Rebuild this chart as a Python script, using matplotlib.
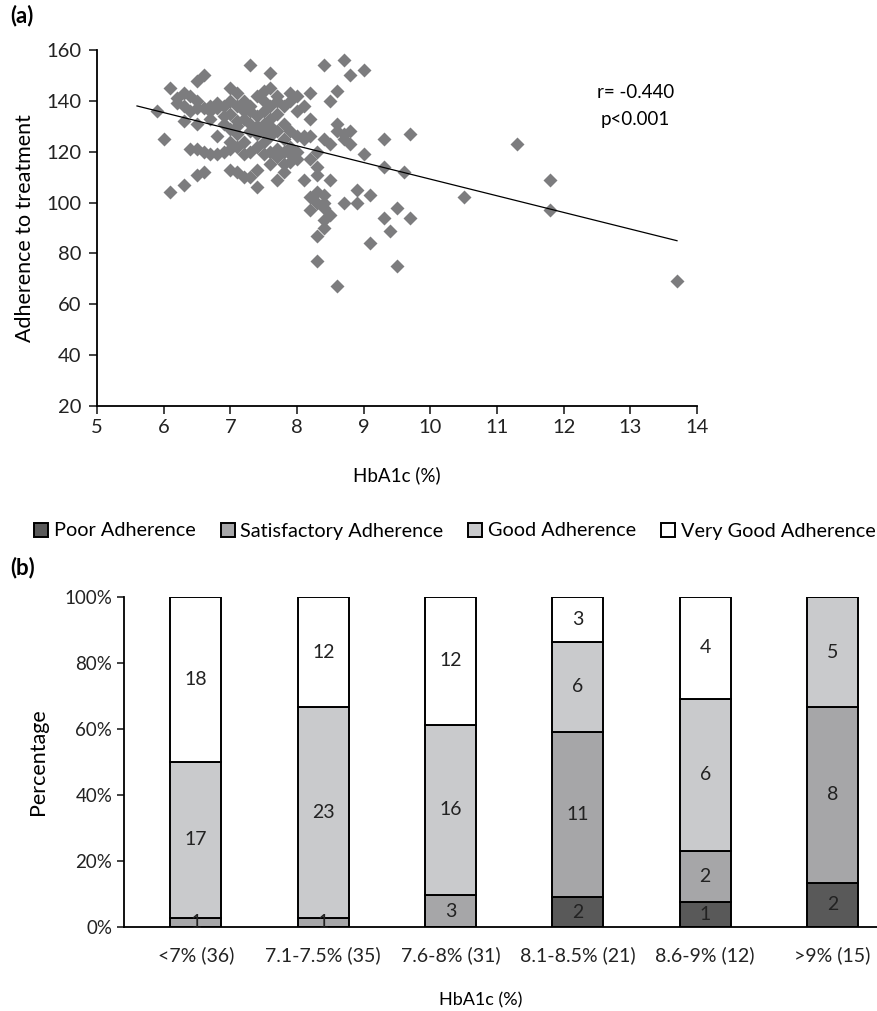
import numpy as np
import matplotlib.pyplot as plt

plt.rcParams['font.family'] = ['Lato', 'DejaVu Sans']

# ---- (a) scatter: HbA1c vs adherence score ----
hba1c = [5.9, 6.0, 6.1, 6.1, 6.2, 6.2, 6.3, 6.3, 6.3, 6.3,
         6.4, 6.4, 6.4, 6.5, 6.5, 6.5, 6.5, 6.5, 6.5, 6.6,
         6.6, 6.6, 6.6, 6.7, 6.7, 6.7, 6.7, 6.8, 6.8, 6.8,
         6.8, 6.9, 6.9, 6.9, 6.9, 7.0, 7.0, 7.0, 7.0, 7.0,
         7.0, 7.0, 7.1, 7.1, 7.1, 7.1, 7.1, 7.1, 7.1, 7.2,
         7.2, 7.2, 7.2, 7.2, 7.2, 7.3, 7.3, 7.3, 7.3, 7.3,
         7.3, 7.3, 7.4, 7.4, 7.4, 7.4, 7.4, 7.4, 7.4, 7.5,
         7.5, 7.5, 7.5, 7.5, 7.5, 7.5, 7.6, 7.6, 7.6, 7.6,
         7.6, 7.6, 7.6, 7.6, 7.7, 7.7, 7.7, 7.7, 7.7, 7.7,
         7.7, 7.8, 7.8, 7.8, 7.8, 7.8, 7.8, 7.9, 7.9, 7.9,
         7.9, 7.9, 7.9, 8.0, 8.0, 8.0, 8.0, 8.0, 8.1, 8.1,
         8.1, 8.1, 8.2, 8.2, 8.2, 8.2, 8.2, 8.2, 8.3, 8.3,
         8.3, 8.3, 8.3, 8.3, 8.3, 8.4, 8.4, 8.4, 8.4, 8.4,
         8.4, 8.4, 8.5, 8.5, 8.5, 8.5, 8.6, 8.6, 8.6, 8.6,
         8.7, 8.7, 8.7, 8.7, 8.8, 8.8, 8.8, 8.9, 8.9, 9.0,
         9.0, 9.1, 9.1, 9.3, 9.3, 9.3, 9.4, 9.5, 9.5, 9.6,
         9.7, 9.7, 10.5, 11.3, 11.8, 11.8, 13.7]
adherence = [136, 125, 104, 145, 139, 141, 107, 143, 132, 138,
             121, 142, 136, 121, 111, 131, 140, 148, 137, 112,
             150, 120, 137, 133, 138, 119, 136, 139, 126, 119,
             137, 120, 134, 138, 131, 113, 124, 129, 140, 145,
             135, 121, 112, 122, 130, 138, 143, 127, 132, 119,
             110, 133, 136, 124, 140, 110, 120, 136, 154, 128,
             131, 138, 106, 113, 130, 122, 142, 134, 127, 124,
             131, 144, 136, 140, 119, 128, 151, 120, 133, 138,
             126, 145, 130, 115, 109, 121, 135, 128, 140, 142,
             118, 115, 138, 125, 120, 131, 112, 119, 128, 140,
             143, 116, 122, 117, 126, 136, 142, 120, 125, 109,
             138, 126, 97, 102, 133, 143, 117, 126, 87, 77,
             111, 114, 120, 100, 104, 90, 98, 100, 103, 125,
             154, 93, 95, 109, 140, 123, 67, 131, 144, 128,
             156, 125, 100, 127, 150, 128, 123, 105, 100, 152,
             119, 84, 103, 125, 114, 94, 89, 75, 98, 112,
             127, 94, 102, 123, 109, 97, 69]

# trend line end points
trend_x = [5.6, 13.7]
trend_y = [138, 85]

# ---- (b) stacked bars ----
groups = ['<7% (36)', '7.1-7.5% (35)', '7.6-8% (31)', '8.1-8.5% (21)',
          '8.6-9% (12)', '>9% (15)']
poor = [0, 0, 0, 2, 1, 2]
satisf = [1, 1, 3, 11, 2, 8]
good = [17, 23, 16, 6, 6, 5]
very_good = [18, 12, 12, 3, 4, 0]
series_names = ['Poor Adherence', 'Satisfactory Adherence', 'Good Adherence',
                'Very Good Adherence']
series_colors = ['#595959', '#a6a6a8', '#c9cacc', '#ffffff']

W, H = 877, 1011
fig = plt.figure(figsize=(W / 100, H / 100), dpi=100)

def box(l, t, r, b):
    return [l / W, 1 - b / H, (r - l) / W, (b - t) / H]

# ---------- panel (a) ----------
ax1 = fig.add_axes(box(97, 50, 697, 406))
ax1.plot(hba1c, adherence, 'D', color='#7c7c7e', ms=7.5, mec='none')
ax1.plot(trend_x, trend_y, color='black', lw=0.9)
ax1.set_xlim(5, 14)
ax1.set_ylim(20, 160)
ax1.set_xticks(range(5, 15))
ax1.set_yticks(range(20, 161, 20))
for s in ['top', 'right']:
    ax1.spines[s].set_visible(False)
for s in ['left', 'bottom']:
    ax1.spines[s].set_linewidth(1.3)
ax1.tick_params(direction='out', length=6, width=1.2, labelsize=14.5, colors='#222222')
ax1.tick_params(axis='y', pad=5)
ax1.set_xlabel('HbA1c (%)', fontsize=13.5, labelpad=22)
ax1.set_ylabel('Adherence to treatment', fontsize=15.5, labelpad=8)
ax1.text(13.08, 138, 'r= -0.440\np<0.001', ha='center', va='center',
         fontsize=13.5, linespacing=1.75)
fig.text(10 / W, 1 - 16 / H, '(a)', fontsize=16, fontweight='bold', va='center')

# ---------- panel (b) ----------
ax2 = fig.add_axes(box(124, 597, 877, 927))
counts = np.array([poor, satisf, good, very_good], dtype=float)
totals = counts.sum(axis=0)
pct = counts / totals
x = np.arange(len(groups))
bottom = np.zeros(len(groups))
for i in range(4):
    ax2.bar(x, pct[i], 0.4, bottom=bottom, color=series_colors[i],
            edgecolor='black', linewidth=1.4, label=series_names[i])
    for j in range(len(groups)):
        if counts[i, j] > 0:
            ax2.text(x[j], bottom[j] + pct[i, j] / 2, '%d' % counts[i, j],
                     ha='center', va='center', fontsize=14, color='#222222')
    bottom += pct[i]
ax2.set_xlim(-0.565, 5.35)
ax2.set_ylim(0, 1)
ax2.set_yticks(np.arange(0, 1.01, 0.2))
ax2.set_yticklabels(['%d%%' % v for v in range(0, 101, 20)])
ax2.set_xticks(x)
ax2.set_xticklabels(groups)
for s in ['top', 'right']:
    ax2.spines[s].set_visible(False)
for s in ['left', 'bottom']:
    ax2.spines[s].set_linewidth(1.3)
ax2.tick_params(axis='y', direction='out', length=5, width=1.2, labelsize=13.5,
                colors='#222222')
ax2.tick_params(axis='x', length=0, pad=14, labelsize=14, colors='#222222')
ax2.set_ylabel('Percentage', fontsize=15.5, labelpad=12)
fig.text(481 / W, 1 - 1000 / H, 'HbA1c (%)', ha='center', va='center', fontsize=13)
fig.text(10 / W, 1 - 568 / H, '(b)', fontsize=16, fontweight='bold', va='center')

fig.legend(loc='center', bbox_to_anchor=(455 / W, 1 - 531 / H), ncol=4,
           frameon=False, fontsize=14.3, handlelength=0.7, handleheight=0.7,
           handletextpad=0.3, columnspacing=1.25, borderaxespad=0)

fig.savefig('out.png', dpi=100)
